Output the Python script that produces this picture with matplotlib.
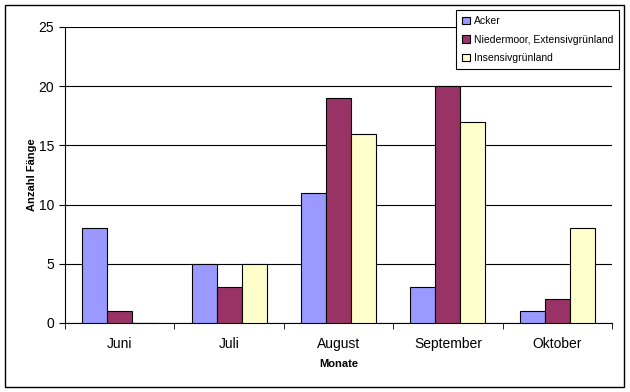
import matplotlib
matplotlib.use("Agg")
import matplotlib.pyplot as plt
import numpy as np
from matplotlib.patches import Rectangle

plt.rcParams['font.family'] = ['Liberation Sans', 'DejaVu Sans']

months = ["Juni", "Juli", "August", "September", "Oktober"]
series_names = ["Acker", "Niedermoor, Extensivgrünland", "Insensivgrünland"]
acker = [8, 5, 11, 3, 1]
nieder = [1, 3, 19, 20, 2]
insensiv = [0, 5, 16, 17, 8]
colors = ["#9999FF", "#993366", "#FFFFCC"]

W, H = 630, 392
fig = plt.figure(figsize=(W/100, H/100), dpi=100)
ax = fig.add_axes([65/W, 1-323/H, (612-65)/W, (323-27)/H])

x = np.arange(len(months))
bw = 0.229
for i, (vals, name, c) in enumerate(zip([acker, nieder, insensiv], series_names, colors)):
    vv = np.array(vals, dtype=float)
    ax.bar(x + (i-1)*bw, vv, bw, color=c, edgecolor='black', linewidth=0.8,
           label=name, zorder=3)

ax.set_xlim(-0.5, len(months)-0.5)
ax.set_ylim(0, 25)
ax.set_yticks(range(0, 26, 5))
ax.tick_params(axis='y', labelsize=10, length=4, direction='out', pad=4)
ax.yaxis.grid(True, color='black', linewidth=0.8, zorder=0)
ax.set_xticks(x)
ax.set_xticklabels(months, fontsize=10)
ax.tick_params(axis='x', length=0, pad=10)
ax.set_xticks(np.arange(-0.5, len(months), 1), minor=True)
ax.tick_params(axis='x', which='minor', length=4, direction='out')
for s in ['top', 'right']:
    ax.spines[s].set_visible(False)
for s in ['left', 'bottom']:
    ax.spines[s].set_linewidth(0.8)

ax.set_xlabel("Monate", fontsize=8, fontweight='bold', labelpad=6)
ax.set_ylabel("Anzahl Fänge", fontsize=8, fontweight='bold', labelpad=1)

leg = fig.legend(loc='upper left', bbox_to_anchor=(456/W, 1-10/H), fontsize=7.5,
                 frameon=True, fancybox=False, edgecolor='black', framealpha=1,
                 handlelength=0.7, handleheight=0.7, handletextpad=0.4,
                 borderpad=0.6, labelspacing=0.8, borderaxespad=0)
leg.get_frame().set_linewidth(0.8)

fig.patches.append(Rectangle((5/W, 1-387/H), (624-5)/W, (387-5)/H,
                             transform=fig.transFigure, fill=False,
                             edgecolor='black', linewidth=1))

fig.savefig("out.png", dpi=100)
